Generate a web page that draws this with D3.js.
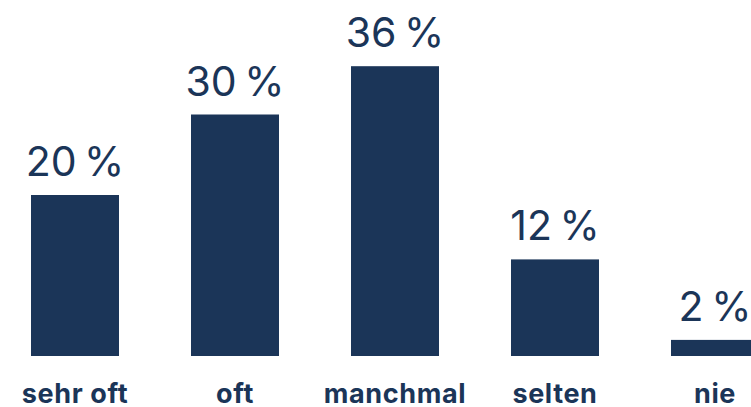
<!DOCTYPE html>
<html>
<head>
<meta charset="utf-8">
<script src="https://cdn.jsdelivr.net/npm/d3@7"></script>
<style>
  html, body { margin: 0; padding: 0; background: #fff; }
  svg { display: block; }
</style>
</head>
<body>
<svg id="chart" width="751" height="407"></svg>
<script>
// Häufigkeit – Anteile in Prozent
const categories = ["sehr oft", "oft", "manchmal", "selten", "nie"];
const values = [20, 30, 36, 12, 2];

const W = 751, H = 407;
const color = "#1b3558";
const svg = d3.select("#chart");

const x = d3.scaleBand()
  .domain(categories)
  .range([-5, 795])
  .paddingInner(0.45)
  .paddingOuter(0.225);

const y = d3.scaleLinear()
  .domain([0, 40])
  .range([356, 34]);

const data = categories.map((c, i) => ({ c, v: values[i] }));

svg.selectAll("rect.bar")
  .data(data)
  .join("rect")
  .attr("class", "bar")
  .attr("x", d => x(d.c))
  .attr("y", d => y(d.v))
  .attr("width", x.bandwidth())
  .attr("height", d => y(0) - y(d.v))
  .attr("fill", color);

svg.selectAll("text.val")
  .data(data)
  .join("text")
  .attr("class", "val")
  .attr("x", d => x(d.c) + x.bandwidth() / 2)
  .attr("y", d => y(d.v) - 19)
  .attr("text-anchor", "middle")
  .attr("fill", color)
  .style("font-family", "Inter, 'Noto Sans', sans-serif")
  .style("font-weight", 400)
  .style("font-size", "41px")
  .style("word-spacing", "-4px")
  .text(d => d.v + " %");

svg.selectAll("text.cat")
  .data(data)
  .join("text")
  .attr("class", "cat")
  .attr("x", d => x(d.c) + x.bandwidth() / 2)
  .attr("y", 403)
  .attr("text-anchor", "middle")
  .attr("fill", color)
  .style("font-family", "Inter, 'Noto Sans', sans-serif")
  .style("font-weight", 700)
  .style("font-size", "27px")
  .style("letter-spacing", "0.6px")
  .text(d => d.c);
</script>
</body>
</html>
